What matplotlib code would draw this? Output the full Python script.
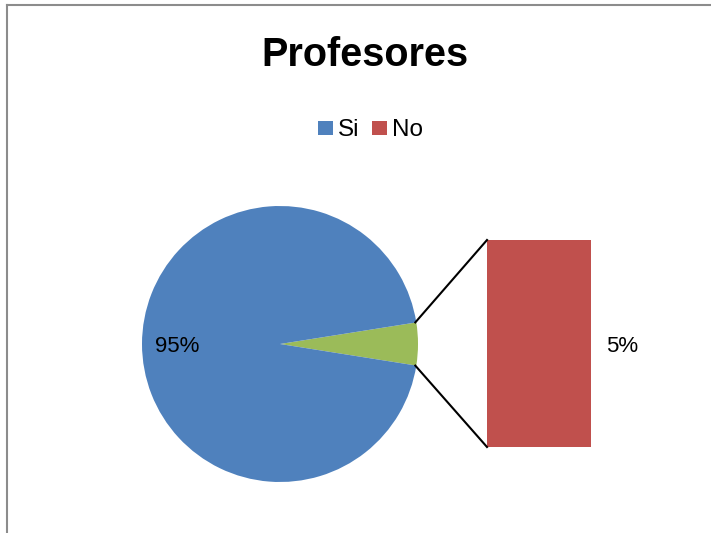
import matplotlib
matplotlib.use("Agg")
import matplotlib.pyplot as plt
from matplotlib.patches import Rectangle
from matplotlib.lines import Line2D
import numpy as np

title = "Profesores"
categories = ["Si", "No"]
values = [95, 5]
colors = {"Si": "#4F81BD", "No": "#C0504D", "other": "#9BBB59"}

W, H = 711, 533
fig = plt.figure(figsize=(W / 100, H / 100), dpi=100)
ax = fig.add_axes([0, 0, 1, 1])

font = "Liberation Sans"

# pie (main)
cx, cy, r = 280, 533 - 344, 138
total = sum(values)
other_frac = values[1] / total
half_ang = 360 * other_frac / 2
pie_vals = [values[1], values[0]]
pie_cols = [colors["other"], colors["Si"]]
ax.pie(pie_vals, colors=pie_cols, startangle=-half_ang, counterclock=True,
       center=(cx, cy), radius=r, frame=True)
ax.set_xlim(0, W)
ax.set_ylim(0, H)
ax.set_aspect("equal")
ax.axis("off")

# label for main slice
ang = np.deg2rad(180)
ax.text(cx + 0.745 * r * np.cos(ang), H - 352.5,
        f"{values[0] / total * 100:.0f}%", ha="center", va="baseline",
        fontsize=16, family=font, color="#000000")

# secondary bar
bx0, bw = 487, 104
bar_full_h = 207
bar_h = bar_full_h * values[1] / values[1]
ax.bar(bx0 + bw / 2, bar_h, width=bw, bottom=cy - bar_h / 2 + 0.5,
       color=colors["No"], edgecolor="none")
ax.text(622, H - 352.5, f"{values[1] / total * 100:.0f}%", ha="center", va="baseline",
        fontsize=16, family=font, color="#000000")

# connector lines
a = np.deg2rad(half_ang)
px, py_top, py_bot = cx + r * np.cos(a), cy + r * np.sin(a), cy - r * np.sin(a)
ax.plot([px - 1, bx0], [py_top, cy + bar_h / 2 + 0.5], color="black", lw=1.5)
ax.plot([px - 1, bx0], [py_bot, cy - bar_h / 2 + 0.5], color="black", lw=1.5)

# title
ax.text(365, H - 65.5, title, ha="center", va="baseline",
        fontsize=28.5, fontweight="bold", family=font)

# legend (manual)
leg_x = [318, 372]
for c, x0 in zip(categories, leg_x):
    ax.add_patch(Rectangle((x0, H - 135), 14.5, 14.5, facecolor=colors[c], edgecolor="none"))
    ax.text(x0 + 19.5, H - 135.5, c, ha="left", va="baseline", fontsize=17.5, family=font)

# chart border (top and left visible)
fig.add_artist(Line2D([7 / W, 1], [1 - 5 / H, 1 - 5 / H], color="#8c8c8c", lw=1.5,
                      transform=fig.transFigure))
fig.add_artist(Line2D([7 / W, 7 / W], [0, 1 - 5 / H], color="#8c8c8c", lw=1.5,
                      transform=fig.transFigure))

fig.savefig("out.png", dpi=100, facecolor="white")
